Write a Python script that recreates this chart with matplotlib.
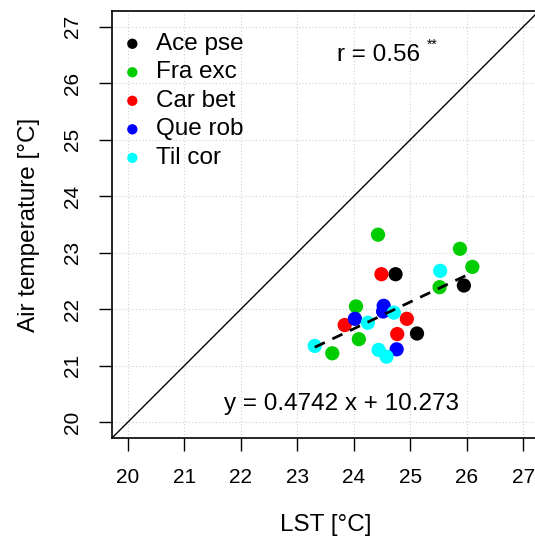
import matplotlib
matplotlib.use("Agg")
import matplotlib.pyplot as plt
import numpy as np

plt.rcParams['font.family'] = ['Liberation Sans', 'DejaVu Sans']

species = ["Ace pse", "Fra exc", "Car bet", "Que rob", "Til cor"]
colors = ["#000000", "#00CD00", "#FF0000", "#0000FF", "#00FFFF"]

lst = {
    "Ace pse": [24.74, 25.95, 25.12],
    "Fra exc": [24.43, 25.88, 26.10, 25.52, 24.04, 24.09, 23.62],
    "Car bet": [24.49, 23.84, 24.94, 24.77],
    "Que rob": [24.53, 24.52, 24.02, 24.76],
    "Til cor": [25.53, 24.71, 24.25, 23.31, 24.44, 24.58],
}
air = {
    "Ace pse": [22.62, 22.42, 21.57],
    "Fra exc": [23.32, 23.07, 22.75, 22.39, 22.05, 21.47, 21.22],
    "Car bet": [22.62, 21.72, 21.83, 21.56],
    "Que rob": [22.06, 21.96, 21.83, 21.29],
    "Til cor": [22.68, 21.94, 21.76, 21.35, 21.28, 21.16],
}
slope, intercept = 0.4742, 10.273
ticks = [20, 21, 22, 23, 24, 25, 26, 27]

W, H = 535, 538
fig = plt.figure(figsize=(W / 100, H / 100), dpi=100)
ax = fig.add_axes([112 / W, 100 / H, 427 / W, 427 / H])

lo, hi = 20 - 0.28, 27 + 0.28
ax.set_xlim(lo, hi)
ax.set_ylim(lo, hi)

ax.grid(True, color="#d0d0d0", linestyle=(0, (1, 2)), linewidth=0.8)
ax.set_axisbelow(True)

ax.plot([lo, hi], [lo, hi], color="black", linewidth=1.0, zorder=2)

for sp, c in zip(species, colors):
    ax.scatter(lst[sp], air[sp], s=105, color=c, edgecolors="none", zorder=3)

allx = np.concatenate([lst[s] for s in species])
xs = np.array([allx.min(), allx.max()])
ax.plot(xs, slope * xs + intercept, color="black", linestyle=(0, (4, 3)), linewidth=2, zorder=4)

ax.set_xticks(ticks)
ax.set_yticks(ticks)
ax.set_xticklabels([str(t) for t in ticks], fontsize=15)
ax.set_yticklabels([str(t) for t in ticks], fontsize=15, rotation=90, va="center")
ax.tick_params(direction="out", length=9.4, width=1, pad=12.5)
ax.tick_params(axis="y", pad=12)

ax.set_xlabel("LST [°C]", fontsize=17.5, labelpad=19)
ax.set_ylabel("Air temperature [°C]", fontsize=17.5, labelpad=16.5)

for sp_ in ax.spines.values():
    sp_.set_linewidth(1.2)

# legend
for i, (sp, c) in enumerate(zip(species, colors)):
    yy = 26.7 - i * 0.505
    ax.scatter([20.08], [yy], s=55, color=c, edgecolors="none", zorder=5)
    ax.text(20.5, yy, sp, fontsize=17.5, va="center", ha="left")

ax.text(24.43, 26.5, "r = 0.56", fontsize=17.5, va="center", ha="center")
ax.text(25.3, 26.68, "**", fontsize=10, va="center", ha="left")
ax.text(23.79, 20.32, "y = 0.4742 x + 10.273", fontsize=17.5, va="center", ha="center")

fig.savefig("out.png", dpi=100)
